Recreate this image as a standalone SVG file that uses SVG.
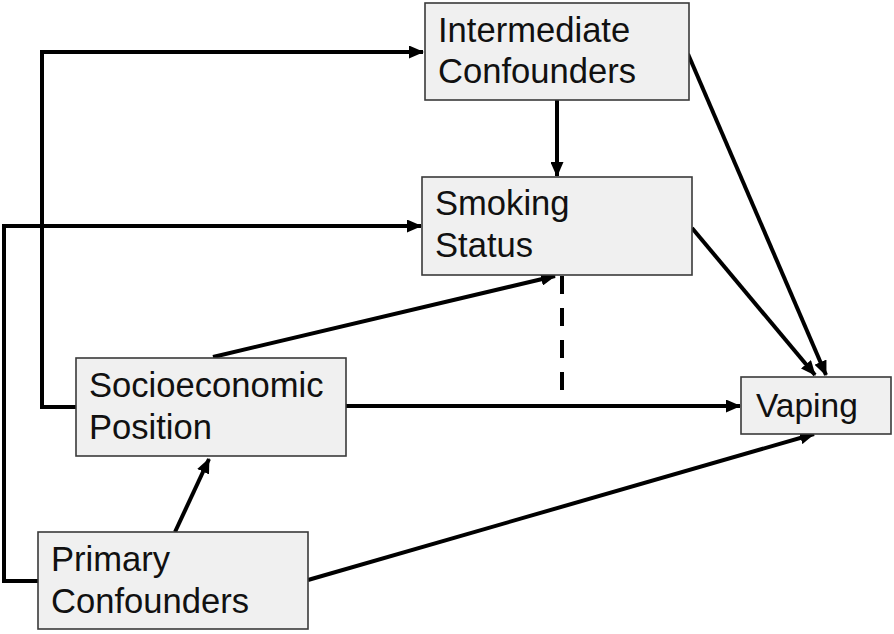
<svg xmlns="http://www.w3.org/2000/svg" width="894" height="634" viewBox="0 0 894 634">
<style>
.box{fill:#f0f0f0;stroke:#3a3a3a;stroke-width:1.6}
.lbl{font-family:"Liberation Sans",Arial,sans-serif;font-size:34.6px;fill:#111}
.c{fill:none;stroke:#000;stroke-width:4}
.a{marker-end:url(#ah)}
.d{stroke-dasharray:18 14}
</style>
<defs>
<marker id="ah" markerUnits="userSpaceOnUse" markerWidth="15" markerHeight="13" refX="14" refY="6.5" orient="auto" viewBox="0 0 15 13">
<path d="M0,0 L15,6.5 L0,13 z" fill="#000"/>
</marker>
</defs>
<rect width="894" height="634" fill="#fff"/>
<g id="connectors">
<path class="c a" d="M76,407 H42 V52 H423"/>
<path class="c a" d="M38,581 H4 V226 H421"/>
<path class="c a" d="M557,100 V176"/>
<path class="c a" d="M688,54 L826,375"/>
<path class="c a" d="M692,228 L815,375"/>
<path class="c a" d="M213,357 L555,276"/>
<path class="c d" d="M562,276 V391"/>
<path class="c a" d="M346,406 L740,406"/>
<path class="c a" d="M175,532 L209,459"/>
<path class="c a" d="M308,580 L814,434"/>
</g>
<g id="intermediate">
<rect class="box" x="425" y="3" width="264" height="97"/>
<text class="lbl" x="438" y="42">Intermediate</text>
<text class="lbl" x="438" y="83">Confounders</text>
</g>
<g id="smoking">
<rect class="box" x="422" y="177" width="270" height="98"/>
<text class="lbl" x="435" y="215">Smoking</text>
<text class="lbl" x="435" y="257">Status</text>
</g>
<g id="ses">
<rect class="box" x="76" y="358" width="270" height="98"/>
<text class="lbl" x="89" y="397">Socioeconomic</text>
<text class="lbl" x="89" y="439">Position</text>
</g>
<g id="primary">
<rect class="box" x="38" y="532" width="270" height="97"/>
<text class="lbl" x="51" y="571">Primary</text>
<text class="lbl" x="51" y="613">Confounders</text>
</g>
<g id="vaping">
<rect class="box" x="741" y="377" width="150" height="57"/>
<text class="lbl" x="756" y="417" style="font-size:33.5px">Vaping</text>
</g>
</svg>
